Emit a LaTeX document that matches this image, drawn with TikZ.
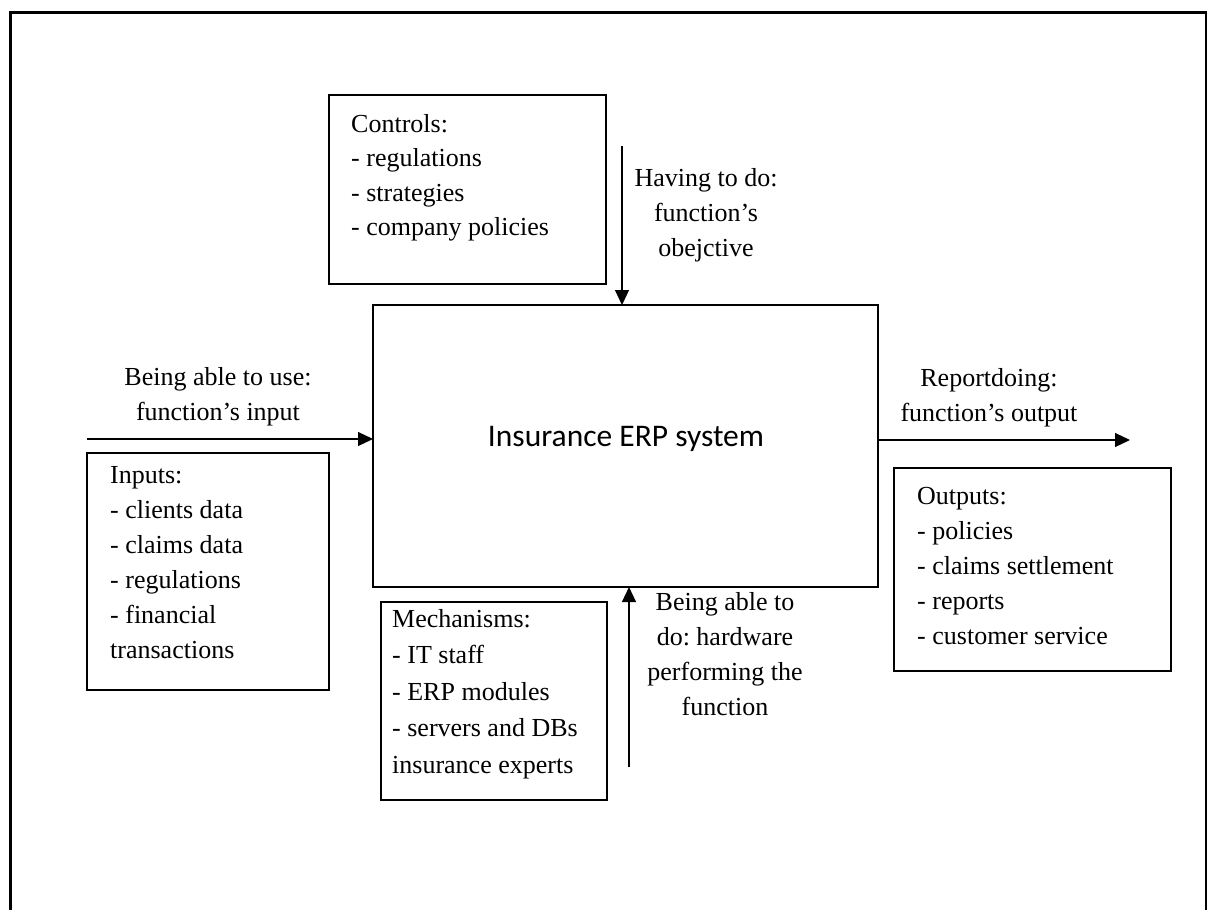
\documentclass[tikz,border=0pt]{standalone}
\usepackage{fontspec}
\setmainfont{Liberation Serif}
\newfontfamily\calibrifont{Carlito}
\usetikzlibrary{arrows.meta}
\frenchspacing

\begin{document}
\begin{tikzpicture}[x=1bp,y=-1bp,
  frame/.style={line width=2.8bp},
  box/.style={draw, line width=2.4bp, rectangle, inner sep=0pt, outer sep=0pt, anchor=north west},
  flow/.style={line width=1.2bp, -{Triangle[length=15bp,width=14bp]}},
  % multi-line texts are placed by the baseline of their last line
  txt/.style={font=\fontsize{26bp}{#1}\selectfont, align=left, inner sep=0pt, anchor=base west},
  txt/.default=35bp,
  lbl/.style={font=\fontsize{26bp}{35bp}\selectfont, align=center, inner sep=0pt, anchor=base},
]
\useasboundingbox (0,0) rectangle (1211,910);

% page frame, open at the bottom
\draw[frame] (10.5,910) -- (10.5,12.5) -- (1206,12.5) -- (1206,910);

% central function box
\node[box, minimum width=505bp, minimum height=282bp] (main) at (373,305) {};
\node[font=\calibrifont\fontsize{31.5bp}{38bp}\selectfont, inner sep=0pt, anchor=base] (mainlbl) at (626,446) {Insurance ERP system};

% surrounding boxes
\node[box, minimum width=277bp, minimum height=189bp] (ctrl) at (329,95) {};
\node[txt=34.5bp] (ctrltxt) at (351,235.5) {Controls:\\- regulations\\- strategies\\- company policies};

\node[box, minimum width=242bp, minimum height=237bp] (inp) at (87,453) {};
\node[txt] (inptxt) at (110,658) {Inputs:\\- clients data\\- claims data\\- regulations\\- financial\\transactions};

\node[box, minimum width=277bp, minimum height=203bp] (outp) at (894,468) {};
\node[txt] (outptxt) at (917,644) {Outputs:\\- policies\\- claims settlement\\- reports\\- customer service};

\node[box, minimum width=226bp, minimum height=198bp] (mech) at (381,602) {};
\node[txt=36.5bp] (mechtxt) at (392,773) {Mechanisms:\\- IT staff\\- ERP modules\\- servers and DBs\\insurance experts};

% free ends of the four flows
\coordinate (ctlstart) at (622,146);
\coordinate (inpstart) at (87,439);
\coordinate (outend) at (1130,440);
\coordinate (mechstart) at (629,767);

\draw[flow] (ctlstart) -- (ctlstart |- main.north);
\draw[flow] (inpstart) -- (inpstart -| main.west);
\draw[flow] (outend -| main.east) -- (outend);
\draw[flow] (mechstart) -- (mechstart |- main.south);

% flow labels
\node[lbl] (ctllbl) at (706,256) {Having to do:\\function’s\\obejctive};
\node[lbl] (inplbl) at (218,420) {Being able to use:\\function’s input};
\node[lbl] (outlbl) at (989,421) {Reportdoing:\\function’s output};
\node[lbl] (mechlbl) at (725,715) {Being able to\\do: hardware\\performing the\\function};
\end{tikzpicture}
\end{document}
